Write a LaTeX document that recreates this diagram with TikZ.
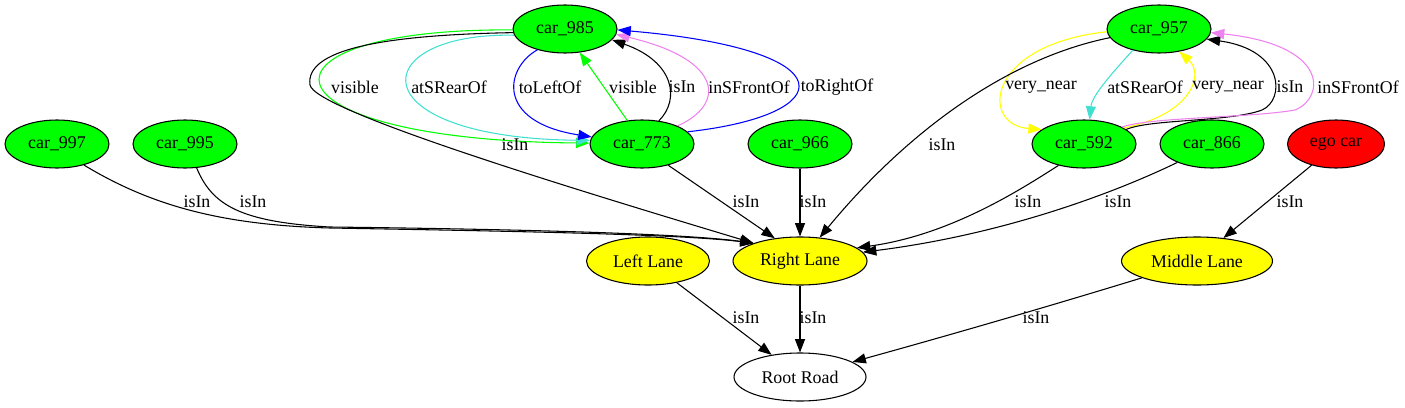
\documentclass[tikz,border=0pt]{standalone}
\usepackage{fontspec}
\setmainfont{Liberation Serif}
\usetikzlibrary{arrows.meta,shapes.geometric}
\definecolor{ggreen}{HTML}{00FF00}
\definecolor{gyellow}{HTML}{FFFF00}
\definecolor{gred}{HTML}{FF0000}
\definecolor{gturq}{HTML}{40E0D0}
\definecolor{gviolet}{HTML}{EE82EE}
\definecolor{gblue}{HTML}{0000FF}
\begin{document}
\begin{tikzpicture}[x=0.75pt,y=-0.75pt,
  every node/.style={font=\fontsize{13.4}{16}\selectfont},
  gnode/.style={ellipse,draw=black,line width=0.8pt,minimum height=36pt,inner sep=0pt},
  car/.style={gnode,fill=ggreen,minimum width=78pt},
  lane/.style={gnode,fill=gyellow},
  lbl/.style={inner sep=0pt},
  conn/.style={line width=0.8pt,-{Triangle[length=10pt,width=7.5pt]}},
]
\path[use as bounding box] (0,0) rectangle (1405,407);

% nodes
\node[car] (c985) at (565,29) {car\_985};
\node[car] (c773) at (642,144) {car\_773};
\node[car] (c966) at (800,144) {car\_966};
\node[car] (c997) at (57,144) {car\_997};
\node[car] (c995) at (185,144) {car\_995};
\node[car] (c957) at (1159,29) {car\_957};
\node[car] (c592) at (1084,144) {car\_592};
\node[car] (c866) at (1212,144) {car\_866};
\node[gnode,fill=gred,minimum width=72.75pt] (ego) at (1336,144) {ego car};
\node[lane,minimum width=92.25pt] (ll) at (648,261) {Left Lane};
\node[lane,minimum width=100.5pt] (rl) at (800,261) {Right Lane};
\node[lane,minimum width=113.25pt] (ml) at (1197,261) {Middle Lane};
\node[gnode,fill=white,minimum width=99pt] (root) at (800,377) {Root Road};

% waypoints
\coordinate (w985) at (310,85);
\coordinate (w997) at (330,228);
\coordinate (w995) at (330,227);
\coordinate (wblk) at (1262,110);
\coordinate (wvio) at (1295,110);

% left cluster
\draw[conn,ggreen] (c985.181) .. controls (240,28) and (250,140) .. (c773.179);
\draw[conn,gturq] (c985.187) .. controls (365,32) and (355,138) .. (c773.176);
\draw[conn,gblue] (c985.217) .. controls (505,68) and (495,122) .. (c773.172);
\draw[conn,ggreen] (c773.122) -- (c985.-58);
\draw[conn] (c773.54) .. controls (680,100) and (675,62) .. (c985.-13);
\draw[conn,gviolet] (c773.27) .. controls (725,105) and (725,60) .. (c985.-6);
\draw[conn,gblue] (c773.15) .. controls (840,115) and (850,50) .. (c985.-1);
\draw[conn] (c985.184) .. controls (380,35) and (305,50) .. (w985)
   .. controls (315,110) and (560,185) .. (rl.159);

% right cluster
\draw[conn,gyellow] (c957.183) .. controls (985,45) and (980,125) .. (c592.161);
\draw[conn,gturq] (c957.219) .. controls (1115,70) and (1092,95) .. (c592.77);
\draw[conn,gyellow] (c592.22) .. controls (1190,115) and (1205,75) .. (c957.-48);
\draw[conn] (c592.19) .. controls (1150,119) and (1230,122) .. (wblk)
   .. controls (1285,100) and (1285,50) .. (c957.-12);
\draw[conn,gviolet] (c592.24) .. controls (1150,117) and (1250,118) .. (wvio)
   .. controls (1325,98) and (1330,45) .. (c957.-4);
\draw[conn] (c957.190) .. controls (1000,60) and (900,140) .. (rl.50);

% to Right Lane
\draw[conn] (c997.-38) .. controls (150,205) and (220,225) .. (w997)
   .. controls (500,231) and (680,234) .. (rl.159);
\draw[conn] (c995.-64) .. controls (212,205) and (240,222) .. (w995)
   .. controls (500,229) and (680,233) .. (rl.159);
\draw[conn] (c773.-39) -- (rl.138);
\draw[conn] (c966.south) -- (rl.north);
\draw[conn] (c592.220) .. controls (1020,190) and (950,235) .. (rl.13);
\draw[conn] (c866.208) .. controls (1110,195) and (1000,235) .. (rl.8);
\draw[conn] (ego.221) -- (ml.41);

% to Root Road
\draw[conn] (ll.-37) -- (root.142);
\draw[conn] (rl.south) -- (root.north);
\draw[conn] (ml.197) .. controls (1050,306) and (950,335) .. (root.16);

% labels
\node[lbl] (t1) at (355,87) {visible};
\node[lbl] (t2) at (449,87) {atSRearOf};
\node[lbl] (t3) at (550,87) {toLeftOf};
\node[lbl] (t4) at (633,87) {visible};
\node[lbl] (t5) at (682,87) {isIn};
\node[lbl] (t6) at (749,87) {inSFrontOf};
\node[lbl] (t7) at (837,87) {toRightOf};
\node[lbl] (t8) at (515,145) {isIn};
\node[lbl] (t9) at (1041,87) {very\_near};
\node[lbl] (t10) at (1145,87) {atSRearOf};
\node[lbl] (t11) at (1228,87) {very\_near};
\node[lbl] (t12) at (1290,87) {isIn};
\node[lbl] (t13) at (1358,87) {inSFrontOf};
\node[lbl] (t14) at (942,145) {isIn};
\node[lbl] (t15) at (197,202) {isIn};
\node[lbl] (t16) at (253,202) {isIn};
\node[lbl] (t17) at (746,202) {isIn};
\node[lbl] (t18) at (813,202) {isIn};
\node[lbl] (t19) at (1028,202) {isIn};
\node[lbl] (t20) at (1118,202) {isIn};
\node[lbl] (t21) at (1290,202) {isIn};
\node[lbl] (t22) at (746,318) {isIn};
\node[lbl] (t23) at (813,318) {isIn};
\node[lbl] (t24) at (1036,318) {isIn};
\end{tikzpicture}
\end{document}
